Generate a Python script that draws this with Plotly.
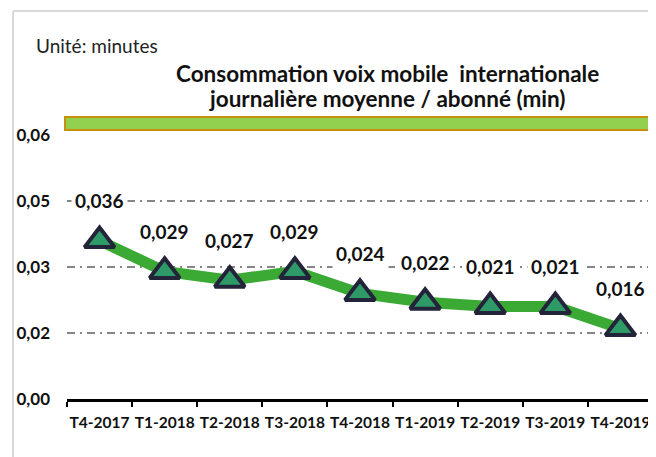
import plotly.graph_objects as go

categories = ["T4-2017", "T1-2018", "T2-2018", "T3-2018", "T4-2018",
              "T1-2019", "T2-2019", "T3-2019", "T4-2019"]
values = [0.036, 0.029, 0.027, 0.029, 0.024, 0.022, 0.021, 0.021, 0.016]
value_labels = ["0,036", "0,029", "0,027", "0,029", "0,024", "0,022", "0,021", "0,021", "0,016"]
y_tick_values = [0, 0.015, 0.03, 0.045, 0.06]
y_tick_labels = ["0,00", "0,02", "0,03", "0,05", "0,06"]

FONT = "Lato"
OFF = 8  # page body margin offset
W, H = 656 - OFF, 457 - OFF
ML, MR, MT, MB = 67 - OFF, 3, 135 - OFF, 58
pw = W - ML - MR
ph = H - MT - MB

def px_x(p):
    return (p - OFF - ML) / pw

def px_y(p):
    return (H - MB - (p - OFF)) / ph

fig = go.Figure()
fig.add_trace(go.Scatter(
    x=categories, y=values, mode="lines+markers",
    line=dict(color="#3aaa35", width=11),
    marker=dict(symbol="triangle-up", size=26, color="#2e9a68",
                line=dict(color="#23233a", width=4)),
    hoverinfo="skip", showlegend=False,
))

annotations = []
for c, v, t in zip(categories, values, value_labels):
    annotations.append(dict(x=c, y=v, text=t, showarrow=False, yshift=40,
                            bgcolor="white", borderpad=3,
                            font=dict(family=FONT, size=19, color="#111111", weight="bold")))
annotations.append(dict(xref="paper", yref="paper", x=px_x(34), y=px_y(45),
                        xanchor="left", yanchor="middle", text="Unité: minutes",
                        showarrow=False, font=dict(family=FONT, size=19, color="#222222")))
annotations.append(dict(xref="paper", yref="paper", x=px_x(387), y=px_y(73),
                        xanchor="center", yanchor="middle",
                        text="<b>Consommation voix mobile  internationale</b>",
                        showarrow=False, font=dict(family=FONT, size=22.5, color="#111111")))
annotations.append(dict(xref="paper", yref="paper", x=px_x(387), y=px_y(99),
                        xanchor="center", yanchor="middle",
                        text="<b>journalière moyenne / abonné (min)</b>",
                        showarrow=False, font=dict(family=FONT, size=22.5, color="#111111")))

shapes = [
    dict(type="rect", xref="paper", yref="paper", x0=px_x(65), x1=px_x(670),
         y0=px_y(130), y1=px_y(117), fillcolor="#92d050",
         line=dict(color="#c8900a", width=2), layer="above"),
    dict(type="line", xref="paper", yref="paper", x0=px_x(13), x1=px_x(670),
         y0=px_y(11), y1=px_y(11), line=dict(color="#d9d9d9", width=2)),
    dict(type="line", xref="paper", yref="paper", x0=px_x(13), x1=px_x(13),
         y0=px_y(11), y1=px_y(470), line=dict(color="#d9d9d9", width=2)),
]

fig.update_layout(
    width=W, height=H,
    margin=dict(l=ML, r=MR, t=MT, b=MB, autoexpand=False),
    paper_bgcolor="white", plot_bgcolor="white",
    annotations=annotations, shapes=shapes,
    font=dict(family=FONT),
)
fig.update_xaxes(
    type="category", range=[-0.5, 8.5], showgrid=False, automargin=False,
    showline=True, linecolor="black", linewidth=3,
    ticks="outside", tickson="boundaries", ticklen=5, tickwidth=2, tickcolor="black",
    ticklabelstandoff=7, tickangle=0,
    tickfont=dict(family=FONT, size=15.5, color="#111111", weight="bold"),
)
fig.update_yaxes(
    range=[0, 0.06], tickvals=y_tick_values, ticktext=y_tick_labels, automargin=False,
    showgrid=True, gridcolor="#868686", gridwidth=2, griddash="8px,5px,2px,5px",
    zeroline=False, showline=False, ticks="",
    ticklabelstandoff=16,
    tickfont=dict(family=FONT, size=17, color="#111111", weight="bold"),
)

fig.write_html("out.html")
